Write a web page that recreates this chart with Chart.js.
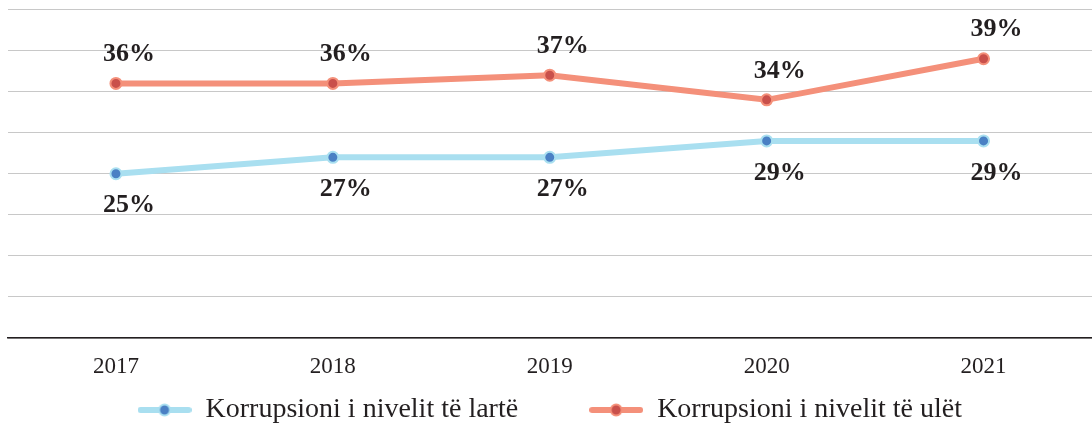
<!DOCTYPE html>
<html>
<head>
<meta charset="utf-8">
<script src="https://cdn.jsdelivr.net/npm/chart.js@4"></script>
<style>
  html, body { margin: 0; padding: 0; background: #fff; }
  #wrap { width: 1092px; height: 424px; }
</style>
</head>
<body>
<div id="wrap"><canvas id="chart"></canvas></div>
<script>
const years = ['2017', '2018', '2019', '2020', '2021']
const highLevel = [25, 27, 27, 29, 29]
const lowLevel = [36, 36, 37, 34, 39]
const seriesNames = ['Korrupsioni i nivelit të lartë', 'Korrupsioni i nivelit të ulët']

const RED_LINE = '#f4907a'
const RED_DOT = '#c9504b'
const BLUE_LINE = '#a9dff0'
const BLUE_DOT = '#4a80c4'

// little line + dot glyph for the legend
const legendGlyph = (line, dot) => {
  const c = document.createElement('canvas')
  c.width = 54
  c.height = 16
  const ctx = c.getContext('2d')
  ctx.strokeStyle = line
  ctx.lineWidth = 6
  ctx.lineCap = 'round'
  ctx.beginPath()
  ctx.moveTo(3, 8)
  ctx.lineTo(51, 8)
  ctx.stroke()
  ctx.beginPath()
  ctx.arc(27, 8, 5.5, 0, Math.PI * 2)
  ctx.fillStyle = dot
  ctx.fill()
  ctx.lineWidth = 2
  ctx.strokeStyle = line
  ctx.stroke()
  return c
}
const glyphs = [legendGlyph(BLUE_LINE, BLUE_DOT), legendGlyph(RED_LINE, RED_DOT)]

// value labels, red above the point, blue below
const valueLabels = {
  id: 'valueLabels',
  afterDatasetsDraw(chart) {
    const { ctx } = chart
    ctx.save()
    ctx.font = 'bold 26px "Liberation Serif", serif'
    ctx.fillStyle = '#231f20'
    ctx.textAlign = 'center'
    ctx.textBaseline = 'middle'
    chart.data.datasets.forEach((ds, i) => {
      const dy = i === 0 ? 32 : -29
      chart.getDatasetMeta(i).data.forEach((pt, j) => {
        ctx.fillText(ds.data[j] + '%', pt.x + 13, pt.y + dy)
      })
    })
    ctx.restore()
  }
}

new Chart(document.getElementById('chart').getContext('2d'), {
  type: 'line',
  data: {
    labels: years,
    datasets: [
      {
        label: seriesNames[0],
        data: highLevel,
        borderColor: BLUE_LINE,
        borderWidth: 6,
        pointRadius: 5.5,
        pointBorderWidth: 2,
        pointBackgroundColor: BLUE_DOT,
        pointBorderColor: BLUE_LINE
      },
      {
        label: seriesNames[1],
        data: lowLevel,
        borderColor: RED_LINE,
        borderWidth: 6,
        pointRadius: 5.5,
        pointBorderWidth: 2,
        pointBackgroundColor: RED_DOT,
        pointBorderColor: RED_LINE
      }
    ]
  },
  options: {
    responsive: true,
    maintainAspectRatio: false,
    animation: false,
    layout: { autoPadding: false, padding: { left: 7.5, right: 0, top: 9.5, bottom: -10 } },
    scales: {
      x: {
        offset: true,
        grid: { display: false, drawTicks: false },
        border: { color: '#231f20', width: 1.5 },
        ticks: {
          color: '#231f20',
          padding: 15,
          font: { family: '"Liberation Serif", serif', size: 23 }
        },
        afterFit: (scale) => {
          scale.paddingLeft = 0
          scale.paddingRight = 0
          scale.height = 43
        }
      },
      y: {
        min: 5,
        max: 45,
        ticks: { display: false, stepSize: 5 },
        grid: { color: '#c8c8c8', lineWidth: 1, drawTicks: false },
        border: { display: false }
      }
    },
    plugins: {
      tooltip: { enabled: false },
      legend: {
        position: 'bottom',
        labels: {
          usePointStyle: true,
          pointStyleWidth: 54,
          padding: 15,
          color: '#231f20',
          font: { family: '"Liberation Serif", serif', size: 28 },
          // trailing spaces widen the gap between the two entries
          generateLabels: (chart) => chart.data.datasets.map((ds, i) => ({
            text: i === 0 ? ds.label + '\u00a0'.repeat(8) : ds.label,
            pointStyle: glyphs[i],
            fillStyle: ds.borderColor,
            strokeStyle: ds.borderColor,
            lineWidth: 0,
            hidden: false,
            datasetIndex: i,
            fontColor: '#231f20'
          }))
        }
      }
    }
  },
  plugins: [valueLabels]
})
</script>
</body>
</html>
